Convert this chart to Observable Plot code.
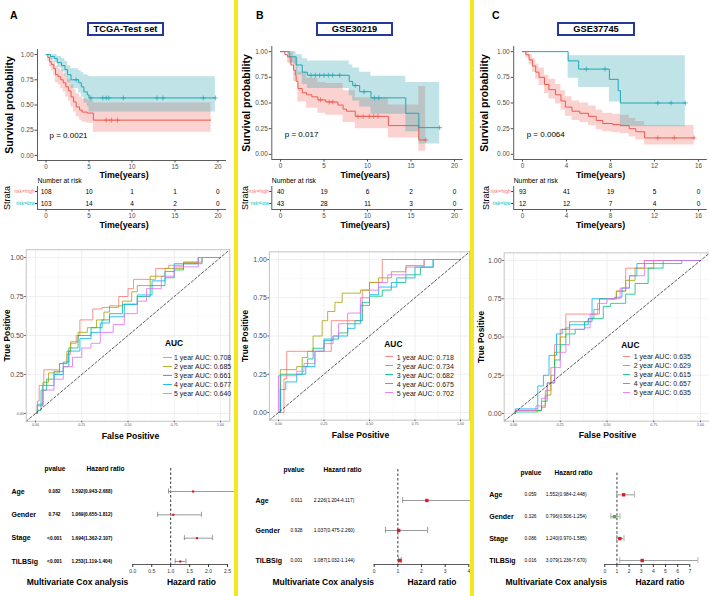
<!DOCTYPE html>
<html><head><meta charset="utf-8">
<script src="https://cdn.jsdelivr.net/npm/d3@7"></script>
<script src="https://cdn.jsdelivr.net/npm/@observablehq/plot@0.6"></script>
<style>
body{margin:0;background:#fff;}
#root{position:relative;width:709px;height:596px;overflow:hidden;font-family:"Liberation Sans",Arial,sans-serif;background:#fff;color:#000}
</style></head><body><div id="root"></div>
<script>
// ================= DATA =================
const panelLetters = ["A", "B", "C"];
const panelTitles = ["TCGA-Test set", "GSE30219", "GSE37745"];
const pTexts = ["p = 0.0021", "p = 0.017", "p = 0.0064"];
const strata = ["risk=high", "risk=low"];

// Kaplan-Meier steps: [time, survival]; bands: [time, lower, upper]; censor marks: [time, survival]
const kmA_high = [[0,1],[0.2,0.97],[0.4,0.93],[0.6,0.9],[0.9,0.86],[1.1,0.8],[1.4,0.78],[1.7,0.75],[2.0,0.72],[2.3,0.68],[2.6,0.64],[2.9,0.58],[3.2,0.53],[3.5,0.48],[3.9,0.45],[4.2,0.43],[4.8,0.42],[5.5,0.35],[19.2,0.35]];
const kmA_highCI = [[0,1,1],[0.2,0.93,1],[0.4,0.88,0.98],[0.6,0.84,0.96],[0.9,0.79,0.93],[1.1,0.72,0.88],[1.4,0.7,0.86],[1.7,0.66,0.84],[2.0,0.63,0.81],[2.3,0.58,0.78],[2.6,0.54,0.75],[2.9,0.48,0.7],[3.2,0.43,0.65],[3.5,0.38,0.61],[3.9,0.35,0.58],[4.2,0.33,0.56],[4.8,0.32,0.55],[5.5,0.23,0.52],[19.2,0.23,0.52]];
const kmA_highCens = [[7.0,0.35],[7.6,0.35],[8.3,0.35]];
const kmA_low = [[0,1],[0.5,0.98],[1.0,0.96],[1.3,0.92],[1.8,0.89],[2.2,0.85],[2.5,0.8],[2.9,0.75],[3.8,0.72],[4.1,0.68],[4.4,0.63],[4.8,0.6],[5.0,0.57],[19.7,0.57]];
const kmA_lowCI = [[0,1,1],[0.5,0.95,1],[1.0,0.92,1],[1.3,0.87,0.98],[1.8,0.83,0.96],[2.2,0.78,0.93],[2.5,0.72,0.89],[2.9,0.66,0.86],[3.8,0.62,0.84],[4.1,0.58,0.82],[4.4,0.52,0.8],[4.8,0.48,0.79],[5.0,0.43,0.78],[19.7,0.43,0.78]];
const kmA_lowCens = [[3.5,0.75],[5.2,0.57],[6.6,0.57],[7.0,0.57],[7.3,0.57],[9.0,0.57],[12.9,0.57],[13.6,0.57],[18.3,0.57],[19.7,0.57]];

const kmB_high = [[0,1],[0.5,0.97],[0.8,0.95],[1.2,0.87],[1.5,0.82],[1.7,0.77],[1.8,0.71],[2.0,0.64],[2.5,0.6],[3.0,0.58],[3.6,0.56],[4.3,0.53],[5.2,0.51],[6.6,0.48],[7.2,0.44],[7.6,0.42],[8.6,0.37],[12.4,0.28],[15.9,0.14],[16.7,0.14]];
const kmB_highCI = [[0,1,1],[0.8,0.89,1],[1.5,0.71,0.94],[2.0,0.51,0.8],[3.0,0.45,0.74],[4.3,0.4,0.7],[5.2,0.38,0.69],[7.2,0.31,0.62],[8.6,0.25,0.55],[12.4,0.16,0.48],[15.9,0.03,0.66],[16.7,0.03,0.66]];
const kmB_highCens = [[4.6,0.53],[5.6,0.51],[6.0,0.51],[8.9,0.37],[9.5,0.37],[10.2,0.37],[10.7,0.37],[11.2,0.37],[16.7,0.14]];
const kmB_low = [[0,1],[1.0,0.95],[1.8,0.87],[2.5,0.8],[3.1,0.77],[7.3,0.77],[7.9,0.71],[8.3,0.67],[9.1,0.61],[10.4,0.55],[14.4,0.4],[15.9,0.26],[18.3,0.26]];
const kmB_lowCI = [[0,1,1],[1.0,0.88,1],[1.8,0.77,0.97],[2.5,0.68,0.93],[3.1,0.64,0.91],[7.9,0.57,0.87],[8.3,0.52,0.84],[9.1,0.46,0.8],[10.4,0.39,0.76],[14.4,0.22,0.7],[15.9,0.1,0.7],[18.3,0.1,0.7]];
const kmB_lowCens = [[3.5,0.77],[4.0,0.77],[4.5,0.77],[5.0,0.77],[5.5,0.77],[6.0,0.77],[6.8,0.77],[8.6,0.67],[9.6,0.61],[10.8,0.55],[11.3,0.55],[18.3,0.26]];

const kmC_high = [[0,1],[0.3,0.97],[0.6,0.92],[0.9,0.86],[1.2,0.8],[1.5,0.75],[2.0,0.68],[2.4,0.63],[3.0,0.58],[3.5,0.52],[3.9,0.46],[4.5,0.42],[5.2,0.4],[6.0,0.37],[6.7,0.33],[7.3,0.3],[8.2,0.29],[8.9,0.28],[9.7,0.25],[10.3,0.22],[11.1,0.16],[15.6,0.16]];
const kmC_highCI = [[0,1,1],[0.3,0.94,1],[0.6,0.87,0.97],[0.9,0.8,0.93],[1.2,0.73,0.88],[1.5,0.67,0.84],[2.0,0.59,0.77],[2.4,0.54,0.73],[3.0,0.49,0.68],[3.5,0.43,0.62],[3.9,0.37,0.56],[4.5,0.33,0.52],[5.2,0.31,0.5],[6.0,0.28,0.47],[6.7,0.24,0.43],[7.3,0.22,0.4],[8.2,0.21,0.39],[8.9,0.2,0.38],[9.7,0.17,0.35],[10.3,0.14,0.32],[11.1,0.09,0.28],[15.6,0.09,0.28]];
const kmC_highCens = [[12.3,0.16],[13.8,0.16],[15.6,0.16]];
const kmC_low = [[0,1],[4.15,0.91],[5.1,0.83],[7.9,0.73],[8.7,0.62],[8.9,0.5],[14.8,0.5]];
const kmC_lowCI = [[0,1,1],[4.15,0.74,0.96],[5.1,0.65,0.96],[7.9,0.51,0.96],[8.9,0.27,0.96],[14.8,0.27,0.96]];
const kmC_lowCens = [[5.8,0.83],[7.5,0.83],[12.3,0.5],[13.5,0.5],[14.8,0.5]];

// Number at risk
const riskTimesAB = [0, 5, 10, 15, 20];
const riskTimesC = [0, 4, 8, 12, 16];
const riskA_high = [108, 10, 1, 1, 0], riskA_low = [103, 14, 4, 2, 0];
const riskB_high = [40, 19, 6, 2, 0], riskB_low = [43, 28, 11, 3, 0];
const riskC_high = [93, 41, 19, 5, 0], riskC_low = [12, 12, 7, 4, 0];

// ROC curves: [false positive, true positive]
const rocYears = ["1 year", "2 year", "3 year", "4 year", "5 year"];
const rocColors = ["#F8766D", "#A3A500", "#00BF7D", "#00B0F6", "#E76BF3"];
const aucA = ["0.708", "0.685", "0.661", "0.677", "0.640"];
const aucB = ["0.718", "0.734", "0.682", "0.675", "0.702"];
const aucC = ["0.635", "0.629", "0.615", "0.657", "0.635"];
const rocA_1 = [[0,0],[0.01,0.08],[0.02,0.18],[0.045,0.28],[0.13,0.32],[0.17,0.38],[0.19,0.45],[0.22,0.5],[0.24,0.6],[0.31,0.67],[0.36,0.68],[0.45,0.75],[0.5,0.8],[0.53,0.86],[0.65,0.93],[0.72,0.95],[0.8,0.97],[0.9,1],[1,1]];
const rocA_2 = [[0,0],[0.01,0.05],[0.04,0.2],[0.07,0.26],[0.13,0.32],[0.17,0.4],[0.19,0.46],[0.23,0.52],[0.28,0.55],[0.33,0.6],[0.37,0.65],[0.4,0.69],[0.47,0.72],[0.52,0.78],[0.55,0.82],[0.62,0.88],[0.7,0.93],[0.8,0.97],[0.88,1],[1,1]];
const rocA_3 = [[0,0],[0.01,0.02],[0.03,0.15],[0.06,0.22],[0.1,0.27],[0.15,0.3],[0.18,0.42],[0.23,0.5],[0.3,0.55],[0.36,0.6],[0.4,0.64],[0.47,0.7],[0.55,0.75],[0.62,0.82],[0.7,0.87],[0.75,0.92],[0.8,0.96],[0.9,1],[1,1]];
const rocA_4 = [[0,0],[0.01,0.06],[0.04,0.18],[0.1,0.25],[0.15,0.33],[0.18,0.4],[0.24,0.48],[0.3,0.52],[0.35,0.58],[0.4,0.62],[0.48,0.7],[0.55,0.76],[0.63,0.85],[0.7,0.91],[0.75,0.96],[0.88,1],[1,1]];
const rocA_5 = [[0,0],[0.01,0.05],[0.04,0.15],[0.1,0.22],[0.15,0.3],[0.2,0.36],[0.25,0.42],[0.3,0.45],[0.35,0.52],[0.42,0.57],[0.48,0.64],[0.55,0.72],[0.6,0.8],[0.68,0.88],[0.75,0.94],[0.88,1],[1,1]];
const rocB_1 = [[0,0],[0.03,0.22],[0.045,0.4],[0.29,0.6],[0.46,0.8],[0.5,0.85],[0.57,1],[1,1]];
const rocB_2 = [[0,0],[0.01,0.28],[0.1,0.3],[0.13,0.36],[0.16,0.4],[0.19,0.5],[0.24,0.6],[0.27,0.66],[0.31,0.72],[0.35,0.78],[0.45,0.8],[0.5,0.85],[0.55,0.88],[0.62,0.92],[0.7,0.96],[0.8,1],[1,1]];
const rocB_3 = [[0,0],[0.01,0.25],[0.13,0.3],[0.16,0.35],[0.19,0.42],[0.25,0.48],[0.33,0.52],[0.38,0.58],[0.42,0.6],[0.46,0.72],[0.5,0.76],[0.57,0.8],[0.62,0.85],[0.7,0.9],[0.78,0.95],[0.85,1],[1,1]];
const rocB_4 = [[0,0],[0.01,0.15],[0.04,0.2],[0.1,0.25],[0.15,0.3],[0.2,0.4],[0.25,0.47],[0.3,0.5],[0.38,0.55],[0.42,0.58],[0.45,0.7],[0.5,0.77],[0.55,0.82],[0.65,0.88],[0.75,0.95],[0.85,1],[1,1]];
const rocB_5 = [[0,0],[0,0.24],[0.1,0.27],[0.14,0.32],[0.2,0.4],[0.25,0.45],[0.3,0.5],[0.33,0.58],[0.38,0.65],[0.45,0.75],[0.5,0.8],[0.55,0.85],[0.6,0.9],[0.7,0.95],[0.8,1],[1,1]];
const rocC_1 = [[0,0],[0.01,0.02],[0.15,0.05],[0.17,0.15],[0.2,0.3],[0.22,0.45],[0.25,0.55],[0.28,0.65],[0.46,0.75],[0.55,0.8],[0.6,0.95],[0.7,1],[1,1]];
const rocC_2 = [[0,0],[0.01,0.02],[0.15,0.04],[0.17,0.12],[0.2,0.25],[0.22,0.4],[0.25,0.5],[0.28,0.56],[0.3,0.6],[0.4,0.62],[0.43,0.68],[0.46,0.75],[0.55,0.8],[0.6,0.87],[0.65,0.95],[0.75,1],[1,1]];
const rocC_3 = [[0,0],[0.01,0.01],[0.13,0.02],[0.15,0.08],[0.18,0.2],[0.22,0.35],[0.25,0.45],[0.28,0.52],[0.33,0.55],[0.38,0.6],[0.42,0.62],[0.48,0.7],[0.52,0.72],[0.6,0.78],[0.65,0.85],[0.72,0.95],[0.8,1],[1,1]];
const rocC_4 = [[0,0],[0.01,0.03],[0.13,0.18],[0.16,0.25],[0.19,0.38],[0.23,0.52],[0.26,0.55],[0.3,0.58],[0.4,0.62],[0.42,0.75],[0.54,0.76],[0.58,0.82],[0.62,0.9],[0.66,0.98],[0.9,1],[1,1]];
const rocC_5 = [[0,0],[0.01,0.02],[0.12,0.05],[0.15,0.1],[0.18,0.2],[0.22,0.3],[0.25,0.4],[0.28,0.45],[0.3,0.55],[0.38,0.56],[0.41,0.65],[0.45,0.72],[0.5,0.75],[0.57,0.82],[0.62,0.9],[0.7,1],[1,1]];

// Multivariate Cox
const coxA_vars = ["Age", "Gender", "Stage", "TILBSig"];
const coxA_p = ["0.082", "0.742", "<0.001", "<0.001"];
const coxA_hr = [1.592, 1.069, 1.694, 1.253];
const coxA_lo = [0.943, 0.655, 1.362, 1.119];
const coxA_hi = [2.688, 1.812, 2.107, 1.404];
const coxB_vars = ["Age", "Gender", "TILBSig"];
const coxB_p = ["0.011", "0.928", "0.001"];
const coxB_hr = [2.226, 1.037, 1.087];
const coxB_lo = [1.204, 0.475, 1.032];
const coxB_hi = [4.117, 2.260, 1.144];
const coxC_vars = ["Age", "Gender", "Stage", "TILBSig"];
const coxC_p = ["0.059", "0.326", "0.086", "0.016"];
const coxC_hr = [1.552, 0.796, 1.240, 3.079];
const coxC_lo = [0.984, 0.506, 0.970, 1.236];
const coxC_hi = [2.448, 1.254, 1.585, 7.670];
const coxTicksA = [0, 0.5, 1, 1.5, 2, 2.5];
const coxTicksB = [0, 1, 2, 3, 4];
const coxTicksC = [0, 1, 2, 3, 4, 5, 6, 7];
const rocTicks = [0, 0.25, 0.5, 0.75, 1];
const rocMinor = [0.125, 0.375, 0.625, 0.875];

// ================= DRAWING =================
const root = document.getElementById("root");
const FONT = '"Liberation Sans", Arial, sans-serif';
const baseStyle = {fontFamily: FONT, background: "transparent", overflow: "visible", color: "#000"};
const RED_LINE = "#EE5A50", TEAL_LINE = "#1EA8B3", RED_FILL = "#F06A61", TEAL_FILL = "#2AA3AE";
const STRATA_COL = ["#F8766D", "#00BFC4"];

function put(node, left, top) {
  node.style.position = "absolute";
  node.style.left = left + "px";
  node.style.top = top + "px";
  root.appendChild(node);
  return node;
}
function div(css, text) {
  const e = document.createElement("div");
  e.style.cssText = css;
  if (text != null) e.textContent = text;
  root.appendChild(e);
  return e;
}
const T = d => d;
const MID = {textAnchor: "middle", lineAnchor: "middle"};

// ---------- KM ----------
function kmChart(c) {
  const xd = [-c.pad, c.xmax + c.pad];
  const X = d => d[0], Y = d => d[1];
  return Plot.plot({
    width: c.w, height: c.h, marginLeft: c.mL, marginRight: c.mR, marginTop: c.mT, marginBottom: c.mB,
    x: {domain: xd}, y: {domain: [-0.05, 1.05]}, style: baseStyle,
    marks: [
      Plot.areaY(c.hiCI, {x: X, y1: d => d[1], y2: d => d[2], curve: "step-after", fill: RED_FILL, fillOpacity: 0.3}),
      Plot.areaY(c.loCI, {x: X, y1: d => d[1], y2: d => d[2], curve: "step-after", fill: TEAL_FILL, fillOpacity: 0.3}),
      Plot.line(c.hi, {x: X, y: Y, curve: "step-after", stroke: RED_LINE, strokeWidth: 1}),
      Plot.line(c.lo, {x: X, y: Y, curve: "step-after", stroke: TEAL_LINE, strokeWidth: 1}),
      Plot.dot(c.hiC, {x: X, y: Y, symbol: "plus", r: 1.7, stroke: RED_LINE, strokeWidth: 0.7}),
      Plot.dot(c.loC, {x: X, y: Y, symbol: "plus", r: 1.7, stroke: TEAL_LINE, strokeWidth: 0.7}),
      Plot.ruleX([xd[0]], {stroke: "#333", strokeWidth: 0.8}),
      Plot.ruleY([-0.05], {stroke: "#333", strokeWidth: 0.8}),
      Plot.axisX({ticks: c.ticks, tickSize: 2.5, tickPadding: 1.2, fontSize: 6.3, color: "#4d4d4d", label: null}),
      Plot.axisY({ticks: [0, 0.25, 0.5, 0.75, 1], tickFormat: d3.format(".2f"), tickSize: 2.5, tickPadding: 1.5, fontSize: 6.5, color: "#4d4d4d", label: null}),
      Plot.text(["Time(years)"], {...MID, text: T, frameAnchor: "bottom", dx: c.timeDx, dy: c.timeDy, fontWeight: "bold", fontSize: 8.8}),
      Plot.text(["Survival probability"], {...MID, text: T, frameAnchor: "left", rotate: -90, dx: c.survDx, fontWeight: "bold", fontSize: 10.5}),
      Plot.text([c.p], {text: T, frameAnchor: "bottom-left", lineAnchor: "middle", dx: c.pDx, dy: -25, textAnchor: "start", fontSize: 8})
    ]
  });
}

// ---------- risk table ----------
function riskChart(c) {
  const xd = [-c.pad, c.xmax + c.pad];
  const cells = [];
  c.times.forEach((t, j) => {
    cells.push({t, i: 0, n: c.high[j]});
    cells.push({t, i: 1, n: c.low[j]});
  });
  const r0 = c.r0 - c.top, r1 = c.r1 - c.top;
  const axisVal = (c.axis - c.r0) / (c.r1 - c.r0);
  return Plot.plot({
    width: c.w, height: c.h, marginLeft: c.mL, marginRight: c.mR, marginTop: c.frameTop - c.top, marginBottom: c.h - (c.axis - c.top),
    x: {domain: xd}, y: {domain: [0, 1], range: [r0, r1]}, style: baseStyle,
    marks: [
      Plot.ruleX([xd[0]], {stroke: "#333", strokeWidth: 0.8}),
      Plot.ruleY([axisVal], {stroke: "#333", strokeWidth: 0.8}),
      Plot.axisY({ticks: [0, 1], tickFormat: () => "", tickSize: 2, color: "#333", label: null}),
      Plot.text(cells, {x: "t", y: "i", text: d => String(d.n), fontSize: 6.5}),
      Plot.text([strata[0]], {text: T, y: () => 0, frameAnchor: "left", lineAnchor: "middle", dx: -3, textAnchor: "end", fontSize: 5, fill: STRATA_COL[0]}),
      Plot.text([strata[1]], {text: T, y: () => 1, frameAnchor: "left", lineAnchor: "middle", dx: -3, textAnchor: "end", fontSize: 5, fill: STRATA_COL[1]}),
      Plot.axisX({ticks: c.ticks, tickSize: 2.5, tickPadding: 1.2, fontSize: 6.3, color: "#4d4d4d", label: null}),
      Plot.text(["Strata"], {...MID, text: T, frameAnchor: "left", rotate: -90, dx: c.strataDx, fontSize: 9}),
      Plot.text(["Number at risk"], {text: T, frameAnchor: "top-left", lineAnchor: "middle", dy: -6, textAnchor: "start", fontSize: 6.8}),
      Plot.text(["Time(years)"], {...MID, text: T, frameAnchor: "bottom", dx: c.timeDx, dy: 15.5, fontWeight: "bold", fontSize: 8.8})
    ]
  });
}

// ---------- ROC ----------
function rocChart(c) {
  const pts = [];
  c.curves.forEach((arr, k) => arr.forEach(d => pts.push({fpr: d[0], tpr: d[1], yr: rocYears[k]})));
  const dom = [-0.05, 1.05];
  return Plot.plot({
    width: c.w, height: c.h, marginLeft: c.mL, marginRight: c.mR, marginTop: c.mT, marginBottom: c.mB,
    x: {domain: dom}, y: {domain: dom}, color: {domain: rocYears, range: rocColors}, style: baseStyle,
    marks: [
      Plot.ruleX(rocMinor, {stroke: "#f3f3f3", strokeWidth: 0.5}),
      Plot.ruleY(rocMinor, {stroke: "#f3f3f3", strokeWidth: 0.5}),
      Plot.ruleX(rocTicks, {stroke: "#e8e8e8", strokeWidth: 0.7}),
      Plot.ruleY(rocTicks, {stroke: "#e8e8e8", strokeWidth: 0.7}),
      Plot.line(pts, {x: "fpr", y: "tpr", z: "yr", stroke: "yr", curve: "step-after", strokeWidth: 0.8}),
      Plot.line(dom, {x: T, y: T, stroke: "#333", strokeWidth: 0.8, strokeDasharray: "2.5,2"}),
      Plot.frame({stroke: "#c4c4c4", strokeWidth: 1}),
      Plot.axisX({ticks: rocTicks, tickFormat: d3.format(".2f"), tickSize: 1.5, tickPadding: 1, fontSize: 3.6, color: "#555", label: null}),
      Plot.axisY({ticks: c.yBig, tickFormat: d3.format(".2f"), tickSize: 1.5, tickPadding: 1, fontSize: 7, color: "#4d4d4d", label: null}),
      Plot.axisY({ticks: c.ySmall, tickFormat: d3.format(".2f"), tickSize: 1.5, tickPadding: 1, fontSize: 3.6, color: "#4d4d4d", label: null}),
      Plot.text(["False Positive"], {...MID, text: T, frameAnchor: "bottom", dx: c.fpDx, dy: c.fpDy, fontWeight: "bold", fontSize: 8.6}),
      Plot.text(["True Positive"], {...MID, text: T, frameAnchor: "left", rotate: -90, dx: c.tpDx, fontWeight: "bold", fontSize: 8.4})
    ]
  });
}
function rocLegend(c) {
  div(`position:absolute;left:${c.aucX}px;top:${c.aucY}px;transform:translateY(-50%);font-weight:bold;font-size:8.4px;line-height:1`, "AUC");
  rocYears.forEach((y, k) => {
    div(`position:absolute;left:${c.swX}px;top:${c.rowsY[k] - 0.5}px;width:${c.swW}px;height:0;border-top:1px solid ${rocColors[k]};opacity:0.85`);
    div(`position:absolute;left:${c.textX}px;top:${c.rowsY[k]}px;transform:translateY(-50%);font-size:7px;line-height:1;white-space:nowrap;color:#222`, `${y} AUC: ${c.auc[k]}`);
  });
}

// ---------- Cox forest ----------
function coxChart(c) {
  const n = c.vars.length;
  const rows = c.vars.map((v, i) => ({
    v, i, p: c.p[i], hr: c.hr[i], lo: c.lo[i], hi: c.hi[i],
    txt: `${c.hr[i].toFixed(3)}(${c.lo[i].toFixed(3)}-${c.hi[i].toFixed(3)})`
  }));
  const r0 = c.rows[0] - c.top, r1 = c.rows[n - 1] - c.top;
  const step = (r1 - r0) / (n - 1);
  const toRow = px => (px - c.top - r0) / step;
  const axisVal = toRow(c.axis), headVal = toRow(c.head);
  const cap = c.cap / step;
  const off = x => x - c.left - c.mL;
  const fw = c.boldVals ? "bold" : "normal";
  return Plot.plot({
    width: c.w, height: c.h, marginLeft: c.mL, marginRight: c.mR, marginTop: 0, marginBottom: c.h - (c.axis - c.top),
    x: {domain: c.xd}, y: {domain: [0, n - 1], range: [r0, r1], axis: null}, style: baseStyle,
    marks: [
      Plot.ruleY([axisVal], {stroke: "#333", strokeWidth: 0.8}),
      Plot.ruleX([1], {y1: headVal, y2: axisVal, stroke: "#222", strokeWidth: 0.9, strokeDasharray: "2.5,2"}),
      Plot.ruleY(rows, {y: "i", x1: "lo", x2: "hi", stroke: c.lineColor, strokeWidth: c.lw}),
      Plot.ruleX(rows, {x: "lo", y1: d => d.i - cap, y2: d => d.i + cap, stroke: c.lineColor, strokeWidth: 0.8}),
      Plot.ruleX(rows, {x: "hi", y1: d => d.i - cap, y2: d => d.i + cap, stroke: c.lineColor, strokeWidth: 0.8}),
      Plot.dot(rows.filter(d => d.hr >= 1), {x: "hr", y: "i", symbol: "square", r: c.r, fill: "#E8141B"}),
      Plot.dot(rows.filter(d => d.hr < 1), {x: "hr", y: "i", symbol: "square", r: c.r, fill: "#4DB33D"}),
      Plot.axisX({ticks: c.ticks, tickFormat: c.fmt, tickSize: 3, tickPadding: 1.5, fontSize: 5, color: "#333", label: null}),
      Plot.text(rows, {y: "i", text: "v", frameAnchor: "left", lineAnchor: "middle", dx: off(c.labX), textAnchor: "start", fontWeight: "bold", fontSize: 7}),
      Plot.text(rows, {y: "i", text: "p", frameAnchor: "left", lineAnchor: "middle", dx: off(c.pX), textAnchor: "middle", fontWeight: fw, fontSize: 4.8}),
      Plot.text(rows, {y: "i", text: "txt", frameAnchor: "left", lineAnchor: "middle", dx: off(c.hrX), textAnchor: "start", fontWeight: fw, fontSize: 4.8}),
      Plot.text(["pvalue"], {text: T, y: () => headVal, frameAnchor: "left", lineAnchor: "middle", dx: off(c.hdrP), textAnchor: "start", fontWeight: "bold", fontSize: 6.6}),
      Plot.text(["Hazard ratio"], {text: T, y: () => headVal, frameAnchor: "left", lineAnchor: "middle", dx: off(c.hdrHR), textAnchor: "start", fontWeight: "bold", fontSize: 6.6}),
      Plot.text(["Multivariate Cox analysis"], {...MID, text: T, frameAnchor: "bottom-left", dx: off(c.t1X), dy: c.titleY - c.axis, fontWeight: "bold", fontSize: 8.5}),
      Plot.text(["Hazard ratio"], {...MID, text: T, frameAnchor: "bottom-left", dx: off(c.t2X), dy: c.titleY - c.axis, fontWeight: "bold", fontSize: 8.5})
    ]
  });
}

// ---------- layout ----------
const kmCfg = [
  {left: 0, top: 38, w: 233, h: 142, mL: 37, mR: 7, mT: 11, mB: 20, xmax: 20, pad: 1, ticks: riskTimesAB, timeDx: -8, timeDy: 14.8, survDx: -28.3, pDx: 12, p: pTexts[0],
   hi: kmA_high, hiCI: kmA_highCI, hiC: kmA_highCens, lo: kmA_low, loCI: kmA_lowCI, loC: kmA_lowCens},
  {left: 238, top: 38, w: 231, h: 142, mL: 33.3, mR: 6.3, mT: 8, mB: 21, xmax: 20, pad: 1, ticks: riskTimesAB, timeDx: -2.5, timeDy: 15.5, survDx: -24.8, pDx: 13, p: pTexts[1],
   hi: kmB_high, hiCI: kmB_highCI, hiC: kmB_highCens, lo: kmB_low, loCI: kmB_lowCI, loC: kmB_lowCens},
  {left: 474, top: 38, w: 235, h: 142, mL: 39.2, mR: 2.2, mT: 8, mB: 21, xmax: 16, pad: 0.8, ticks: riskTimesC, timeDx: -10, timeDy: 15.5, survDx: -29.2, pDx: 13, p: pTexts[2],
   hi: kmC_high, hiCI: kmC_highCI, hiC: kmC_highCens, lo: kmC_low, loCI: kmC_lowCI, loC: kmC_lowCens}
];
const riskData = [[riskA_high, riskA_low], [riskB_high, riskB_low], [riskC_high, riskC_low]];
const strataDx = [-30.5, -27, -28];

const rocCfg = [
  {left: 0, top: 240, w: 233, h: 205, mL: 25.75, mR: 3.75, mT: 9.2, mB: 24.2, yBig: [0.25, 0.5, 0.75, 1], ySmall: [0], fpDx: 2.5, fpDy: 14.5, tpDx: -19.25,
   curves: [rocA_1, rocA_2, rocA_3, rocA_4, rocA_5], auc: aucA, aucX: 165, aucY: 343.3, rowsY: [357.3, 366.2, 375.2, 384.2, 393.3], swX: 163, swW: 9, textX: 174},
  {left: 238, top: 240, w: 232, h: 205, mL: 30.9, mR: 0.9, mT: 11.35, mB: 25.35, yBig: rocTicks, ySmall: [], fpDx: -9, fpDy: 15.3, tpDx: -23.9,
   curves: [rocB_1, rocB_2, rocB_3, rocB_4, rocB_5], auc: aucB, aucX: 384.3, aucY: 344.3, rowsY: [356.7, 365.7, 374.7, 383.7, 392.7], swX: 385, swW: 8, textX: 396.7},
  {left: 474, top: 240, w: 236, h: 205, mL: 29.65, mR: 0.65, mT: 12.35, mB: 24.35, yBig: rocTicks, ySmall: [], fpDx: 0.5, fpDy: 14.3, tpDx: -22.65,
   curves: [rocC_1, rocC_2, rocC_3, rocC_4, rocC_5], auc: aucC, aucX: 621.3, aucY: 345, rowsY: [356, 365, 374.3, 383, 392.3], swX: 622.7, swW: 7.6, textX: 633.7}
];

const coxCfg = [
  {left: 0, top: 455, w: 233, h: 141, mL: 132.3, mR: 6, xd: [0, 2.5], ticks: coxTicksA, fmt: d3.format(".1f"),
   vars: coxA_vars, p: coxA_p, hr: coxA_hr, lo: coxA_lo, hi: coxA_hi,
   rows: [491, 515, 538, 561], axis: 564, head: 468, labX: 11, pX: 54, hrX: 71, hdrP: 44, hdrHR: 86, t1X: 77, t2X: 191, titleY: 582,
   r: 1.2, cap: 2.5, lineColor: "#808080", lw: 0.8, boldVals: true},
  {left: 238, top: 455, w: 232, h: 141, mL: 135.7, mR: 1.7, xd: [0, 4], ticks: coxTicksB, fmt: d3.format("d"),
   vars: coxB_vars, p: coxB_p, hr: coxB_hr, lo: coxB_lo, hi: coxB_hi,
   rows: [500, 530, 560], axis: 564, head: 469, labX: 255, pX: 296, hrX: 313.3, hdrP: 283, hdrHR: 323, t1X: 322.7, t2X: 431.5, titleY: 582,
   r: 1.9, cap: 3, lineColor: "#808080", lw: 0.8, boldVals: false},
  {left: 474, top: 455, w: 235, h: 141, mL: 130.3, mR: 19.7, xd: [0, 7], ticks: coxTicksC, fmt: d3.format("d"),
   vars: coxC_vars, p: coxC_p, hr: coxC_hr, lo: coxC_lo, hi: coxC_hi,
   rows: [494.3, 516.7, 538.3, 560], axis: 564, head: 472.7, labX: 488.7, pX: 530, hrX: 545.3, hdrP: 520, hdrHR: 554, t1X: 555.7, t2X: 659.5, titleY: 582,
   r: 1.9, cap: 3, lineColor: "#a0a0a0", lw: 1.1, boldVals: false}
];

const titleBox = [
  {x: 87, y: 22, w: 77, h: 14},
  {x: 316, y: 22, w: 77, h: 14},
  {x: 557, y: 22, w: 78, h: 14}
];
const letterX = [10, 256, 492];

for (let k = 0; k < 3; k++) {
  const kc = kmCfg[k];
  put(kmChart(kc), kc.left, kc.top);
  const rc = {left: kc.left, top: 176, w: kc.w, h: 56, mL: kc.mL, mR: kc.mR, frameTop: 186, r0: 191, r1: 203, axis: 209,
    xmax: kc.xmax, pad: kc.pad, ticks: kc.ticks, times: kc.ticks, high: riskData[k][0], low: riskData[k][1], strataDx: strataDx[k], timeDx: kc.timeDx};
  put(riskChart(rc), rc.left, rc.top);
  put(rocChart(rocCfg[k]), rocCfg[k].left, rocCfg[k].top);
  rocLegend(rocCfg[k]);
  put(coxChart(coxCfg[k]), coxCfg[k].left, coxCfg[k].top);
  const tb = titleBox[k];
  div(`position:absolute;left:${tb.x}px;top:${tb.y}px;width:${tb.w}px;height:${tb.h}px;box-sizing:border-box;border:2px solid #24399A;display:flex;align-items:center;justify-content:center;font-weight:bold;font-size:9.3px;white-space:nowrap`, panelTitles[k]);
  div(`position:absolute;left:${letterX[k]}px;top:10px;font-weight:bold;font-size:10.5px;line-height:1`, panelLetters[k]);
}
// yellow separators
div("position:absolute;left:233.5px;top:0;width:4.5px;height:596px;background:#F4E81A");
div("position:absolute;left:469.5px;top:0;width:4.5px;height:596px;background:#F4E81A");
</script></body></html>
